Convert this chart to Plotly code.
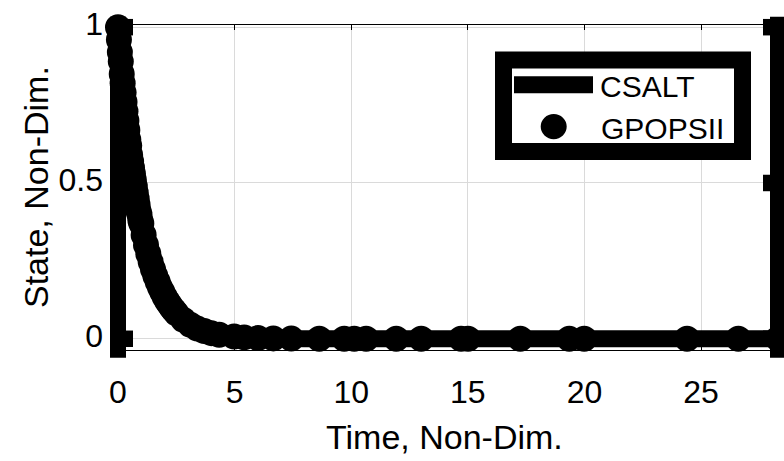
import plotly.graph_objects as go

# --- data -------------------------------------------------------------
# CSALT solution (state vs. non-dimensional time)
csalt_t = [0.0, 0.1, 0.2, 0.3, 0.4, 0.5, 0.6, 0.7, 0.8, 0.9, 1.0, 1.2, 1.4, 1.6,
           1.8, 2.0, 2.3, 2.6, 3.0, 3.5, 4.0, 4.5, 5.0, 6.0, 7.0, 8.0, 10.0,
           14.0, 20.0, 28.3]
csalt_x = [1.00, 0.905, 0.82, 0.74, 0.67, 0.61, 0.55, 0.50, 0.45, 0.41, 0.37,
           0.30, 0.25, 0.20, 0.165, 0.135, 0.10, 0.074, 0.050, 0.030, 0.018,
           0.011, 0.007, 0.0025, 0.001, 0.0, 0.0, 0.0, 0.0, 0.0]

# GPOPSII solution points (dense through the transient, sparse afterwards)
gpops_t = [0.00, 0.04, 0.08, 0.12, 0.16, 0.20, 0.24, 0.28, 0.32, 0.36,
           0.40, 0.44, 0.48, 0.52, 0.56, 0.60, 0.64, 0.68, 0.72, 0.76,
           0.80, 0.84, 0.88, 0.92, 0.96, 1.00,
           1.1, 1.2, 1.3, 1.4, 1.5, 1.6, 1.7, 1.8, 1.9, 2.0,
           2.1, 2.2, 2.3, 2.4, 2.5,
           2.8, 3.1, 3.4, 3.7, 4.0, 4.34,
           4.98, 5.41, 6.0, 6.66, 7.43, 8.63, 9.7, 10.13, 10.64, 11.93,
           13.0, 14.71, 15.01, 17.25, 19.35, 19.99, 24.4, 26.6, 28.3]
gpops_x = [1.00, 0.96, 0.92, 0.89, 0.85, 0.82, 0.79, 0.76, 0.73, 0.70,
           0.67, 0.64, 0.62, 0.59, 0.57, 0.55, 0.53, 0.51, 0.49, 0.47,
           0.45, 0.43, 0.41, 0.40, 0.38, 0.37,
           0.333, 0.301, 0.273, 0.247, 0.223, 0.202, 0.183, 0.165, 0.150, 0.135,
           0.122, 0.111, 0.100, 0.091, 0.082,
           0.061, 0.045, 0.033, 0.025, 0.018, 0.013,
           0.007, 0.0045, 0.0025, 0.0013, 0.0006, 0.0002, 0.0, 0.0, 0.0, 0.0,
           0.0, 0.0, 0.0, 0.0, 0.0, 0.0, 0.0, 0.0, 0.0]

series_names = ["CSALT", "GPOPSII"]
x_ticks = [0, 5, 10, 15, 20, 25]
y_ticks = [0, 0.5, 1]
y_tick_text = ["0", "0.5", "1"]
x_title = "Time, Non-Dim."
y_title = "State, Non-Dim."

# --- layout geometry --------------------------------------------------
W, H = 784, 461
PL, PR, PT, PB = 118, 778, 15, 350          # plot-area edges in pixels
X_RANGE = [0, 28.3]
Y_RANGE = [-0.036, 1.007]
FONT = "Liberation Sans, Arial, Helvetica, sans-serif"
GRID = "#dadada"


def fx(px):
    return (px - PL) / (PR - PL)


def fy(py):
    return (PB - py) / (PB - PT)


def fy_val(v):
    return (v - Y_RANGE[0]) / (Y_RANGE[1] - Y_RANGE[0])


fig = go.Figure()
fig.add_trace(go.Scatter(
    x=csalt_t, y=csalt_x, name=series_names[0], mode="lines",
    line=dict(color="black", width=17), cliponaxis=False, showlegend=False))
fig.add_trace(go.Scatter(
    x=gpops_t, y=gpops_x, name=series_names[1], mode="markers",
    marker=dict(color="black", size=26, line=dict(width=0)),
    cliponaxis=False, showlegend=False))

shapes = []
# heavy left / right axis bars
for xc in (PL, PR):
    shapes.append(dict(type="rect", xref="paper", yref="paper",
                       x0=fx(xc - 8), x1=fx(xc + 8), y0=fy(358), y1=fy(6.5),
                       fillcolor="black", line=dict(width=0), layer="above"))
# heavy y tick stubs
for v in y_ticks:
    yc = fy_val(v)
    hh = 8.5 / (PB - PT)
    shapes.append(dict(type="rect", xref="paper", yref="paper",
                       x0=fx(PL + 8), x1=fx(PL + 15), y0=yc - hh, y1=yc + hh,
                       fillcolor="black", line=dict(width=0), layer="above"))
    shapes.append(dict(type="rect", xref="paper", yref="paper",
                       x0=fx(PR - 15), x1=fx(PR - 8), y0=yc - hh, y1=yc + hh,
                       fillcolor="black", line=dict(width=0), layer="above"))

# legend box
shapes.append(dict(type="rect", xref="paper", yref="paper",
                   x0=fx(503.5), x1=fx(742.5), y0=fy(145.5), y1=fy(51.2),
                   fillcolor="white", line=dict(color="black", width=17),
                   layer="above"))
# legend line sample
shapes.append(dict(type="line", xref="paper", yref="paper",
                   x0=fx(514), x1=fx(593), y0=fy(76.5), y1=fy(76.5),
                   line=dict(color="black", width=17), layer="above"))
# legend marker sample
shapes.append(dict(type="circle", xref="paper", yref="paper",
                   x0=fx(553.7 - 13), x1=fx(553.7 + 13),
                   y0=fy(119.7 + 13), y1=fy(119.7 - 13),
                   fillcolor="black", line=dict(width=0), layer="above"))

annotations = [
    dict(text=series_names[0], xref="paper", yref="paper", x=fx(598), y=fy(78.5),
         xanchor="left", yanchor="middle", showarrow=False,
         font=dict(family=FONT, size=30, color="black")),
    dict(text=series_names[1], xref="paper", yref="paper", x=fx(599), y=fy(121.5),
         xanchor="left", yanchor="middle", showarrow=False,
         font=dict(family=FONT, size=30, color="black")),
    dict(text=x_title, xref="paper", yref="paper", x=fx(444), y=fy(440),
         xanchor="center", yanchor="middle", showarrow=False,
         font=dict(family=FONT, size=34, color="black")),
    dict(text=y_title, xref="paper", yref="paper", x=fx(36), y=fy(182),
         xanchor="center", yanchor="middle", showarrow=False, textangle=-90,
         font=dict(family=FONT, size=34, color="black")),
]

fig.update_layout(
    width=W, height=H,
    margin=dict(l=PL, r=W - PR, t=PT, b=H - PB, pad=0),
    paper_bgcolor="white", plot_bgcolor="white",
    font=dict(family=FONT, color="black"),
    shapes=shapes, annotations=annotations, showlegend=False,
    xaxis=dict(range=X_RANGE, tickvals=x_ticks, showgrid=True, gridcolor=GRID,
               gridwidth=1, zeroline=False, showline=True, linecolor="black",
               linewidth=1, mirror="allticks", ticks="inside", ticklen=5,
               tickcolor="black", tickwidth=1, ticklabelstandoff=14,
               tickfont=dict(family=FONT, size=32, color="black")),
    yaxis=dict(range=Y_RANGE, tickvals=y_ticks, ticktext=y_tick_text,
               showgrid=True, gridcolor=GRID, gridwidth=1, zeroline=False,
               showline=False, ticks="", ticklabelstandoff=14,
               ticklabelshift=-3, ticklabeloverflow="allow",
               tickfont=dict(family=FONT, size=32, color="black")),
)

fig.write_html("out.html")
